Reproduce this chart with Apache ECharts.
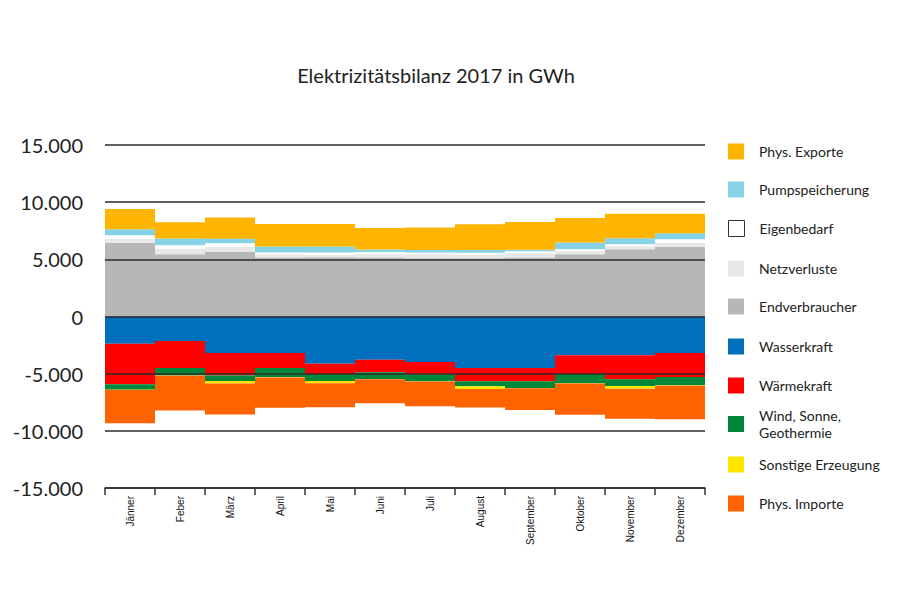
<!DOCTYPE html>
<html>
<head>
<meta charset="utf-8">
<script src="https://cdn.jsdelivr.net/npm/echarts@6/dist/echarts.min.js"></script>
<style>html,body{margin:0;padding:0;background:#fff;}#c{width:900px;height:600px;}</style>
</head>
<body>
<div id="c"></div>
<script>
var months = ['Jänner','Feber','März','April','Mai','Juni','Juli','August','September','Oktober','November','Dezember'];
var yTicks = [-15000,-10000,-5000,0,5000,10000,15000];

// Aufbringung/Verwendung (GWh)
var endverbraucher = [6460,5440,5640,5150,5180,5150,5090,5090,5150,5440,5880,6110];
var netzverluste   = [350,500,470,290,230,290,350,290,380,290,290,350];
var eigenbedarf    = [290,290,290,150,180,200,150,200,180,150,150,290];
var pumpspeicher   = [530,590,410,530,530,230,230,230,120,590,530,530];
var exporte        = [1780,1430,1840,1960,1960,1870,1960,2250,2430,2140,2140,1700];

var wasserkraft    = [2380,2150,3200,3200,4130,3780,3980,4510,4510,3400,3400,3200];
var waermekraft    = [3550,2360,1950,1310,930,1100,1100,1160,1160,1630,2090,2090];
var windSonne      = [470,640,490,790,580,580,580,440,580,810,580,730];
var sonstige       = [30,30,230,30,200,30,30,230,30,30,260,30];
var importe        = [2900,3050,2700,2650,2090,2090,2150,1630,1890,2730,2620,2940];

function neg(a){ return a.map(function(v){ return -v; }); }
function fmt(v){
  var s = Math.abs(v).toString().replace(/\B(?=(\d{3})+(?!\d))/g, '.');
  return (v < 0 ? '-' : '') + s;
}

var seriesDef = [
  {name:'Endverbraucher', data:endverbraucher, color:'#b7b7b7'},
  {name:'Netzverluste', data:netzverluste, color:'#e8e8e8'},
  {name:'Eigenbedarf', data:eigenbedarf, color:'#ffffff'},
  {name:'Pumpspeicherung', data:pumpspeicher, color:'#86d3e6'},
  {name:'Phys. Exporte', data:exporte, color:'#ffb400'},
  {name:'Wasserkraft', data:neg(wasserkraft), color:'#006fbe'},
  {name:'Wärmekraft', data:neg(waermekraft), color:'#ff0000'},
  {name:'Wind, Sonne,\nGeothermie', data:neg(windSonne), color:'#00873a'},
  {name:'Sonstige Erzeugung', data:neg(sonstige), color:'#ffe600'},
  {name:'Phys. Importe', data:neg(importe), color:'#ff6200'}
];

var legendOrder = ['Phys. Exporte','Pumpspeicherung','Eigenbedarf','Netzverluste','Endverbraucher','Wasserkraft','Wärmekraft','Wind, Sonne,\nGeothermie','Sonstige Erzeugung','Phys. Importe'];
var legendCenters = [151,189,228,268,306,346,385,424,464,503];

var legends = legendOrder.map(function(name, i){
  var two = name.indexOf('\n') >= 0;
  var item = {name:name};
  if (name === 'Eigenbedarf') item.itemStyle = {color:'#ffffff', borderColor:'#333333', borderWidth:1};
  return {
    data:[item],
    orient:'vertical',
    left:728,
    top: legendCenters[i] - (two ? 17 : 8),
    itemWidth:16, itemHeight:16,
    icon:'rect',
    selectedMode:false,
    padding:0,
    textStyle:{fontFamily:'Lato, "Open Sans", sans-serif', fontSize:14, color:'#222', lineHeight:17, padding:[0,0,0,10]}
  };
});

var chart = echarts.init(document.getElementById('c'), null, {renderer:'svg'});
chart.setOption({
  animation:false,
  backgroundColor:'#ffffff',
  graphic:[{
    type:'text', x:436, y:75,
    style:{text:'Elektrizitätsbilanz 2017 in GWh', textAlign:'center', textVerticalAlign:'middle',
      font:'20px Lato, "Open Sans", sans-serif', fill:'#222'}
  }],
  legend: legends,
  grid:{left:105, right:195, top:145, bottom:112},
  xAxis:{
    type:'category', data:months, position:'bottom',
    axisLine:{onZero:false, lineStyle:{color:'#333', width:1.5}},
    axisTick:{show:true, length:7, interval:0, lineStyle:{color:'#333', width:1.5}},
    axisLabel:{interval:0, rotate:90, fontSize:10, margin:8, color:'#111', fontFamily:'"Liberation Sans", Arial, sans-serif'}
  },
  yAxis:{
    type:'value', min:-15000, max:15000, interval:5000, z:10,
    axisLine:{show:false}, axisTick:{show:false},
    axisLabel:{formatter:function(v){ return fmt(v); }, fontSize:20, margin:22, color:'#222', fontFamily:'Lato, "Open Sans", sans-serif'},
    splitLine:{lineStyle:{color:'#2b2b2b', width:1.5}}
  },
  series: seriesDef.map(function(s){
    return {
      name:s.name, type:'bar', stack:'bilanz', data:s.data,
      barCategoryGap:'0%', barGap:'0%',
      itemStyle:{color:s.color},
      emphasis:{disabled:true}
    };
  })
});
</script>
</body>
</html>
